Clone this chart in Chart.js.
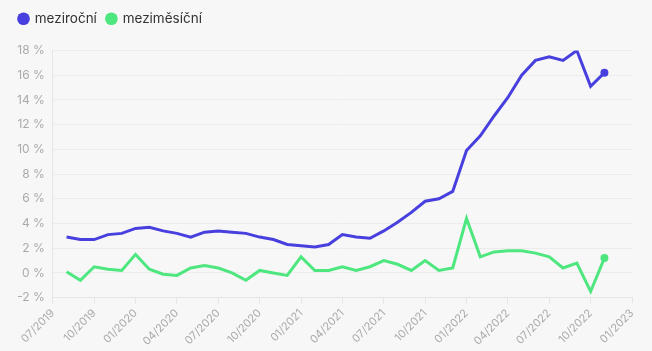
<!DOCTYPE html>
<html>
<head>
<meta charset="utf-8">
<script src="https://cdn.jsdelivr.net/npm/chart.js@4"></script>
<style>
  html, body { margin: 0; padding: 0; background: #f7f7f8; }
  #wrap { width: 652px; height: 351px; }
</style>
</head>
<body>
<div id="wrap"><canvas id="myChart"></canvas></div>
<script>
// months counted from 07/2019 (index 0)
var tickLabels = ['07/2019', '10/2019', '01/2020', '04/2020', '07/2020', '10/2020', '01/2021',
  '04/2021', '07/2021', '10/2021', '01/2022', '04/2022', '07/2022', '10/2022', '01/2023'];
var firstMonth = 1; // 08/2019
var yoy = [2.9, 2.7, 2.7, 3.1, 3.2,
  3.6, 3.7, 3.4, 3.2, 2.9, 3.3, 3.4, 3.3, 3.2, 2.9, 2.7, 2.3,
  2.2, 2.1, 2.3, 3.1, 2.9, 2.8, 3.4, 4.1, 4.9, 5.8, 6.0, 6.6,
  9.9, 11.1, 12.7, 14.2, 16.0, 17.2, 17.5, 17.2, 18.0, 15.1, 16.2];
var mom = [0.1, -0.6, 0.5, 0.3, 0.2,
  1.5, 0.3, -0.1, -0.2, 0.4, 0.6, 0.4, 0.0, -0.6, 0.2, 0.0, -0.2,
  1.3, 0.2, 0.2, 0.5, 0.2, 0.5, 1.0, 0.7, 0.2, 1.0, 0.2, 0.4,
  4.4, 1.3, 1.7, 1.8, 1.8, 1.6, 1.3, 0.4, 0.8, -1.5, 1.2];

function toPoints(arr) {
  return arr.map(function (v, i) { return { x: firstMonth + i, y: v }; });
}
function lastOnly(ctx) {
  return ctx.dataIndex === ctx.dataset.data.length - 1 ? 4 : 0;
}

// a bit of space under the legend
var legendMargin = {
  id: 'legendMargin',
  beforeInit: function (chart) {
    var fit = chart.legend.fit;
    chart.legend.fit = function () {
      fit.bind(chart.legend)();
      this.height += 15;
    };
  }
};

var ctx = document.getElementById('myChart').getContext('2d');
var chart = new Chart(ctx, {
  type: 'line',
  data: {
    datasets: [{
      label: 'meziroční',
      data: toPoints(yoy),
      borderColor: 'rgb(72, 64, 222)',
      backgroundColor: 'rgb(72, 64, 222)',
      borderWidth: 3,
      pointRadius: lastOnly,
      pointBorderWidth: 0,
      pointHoverRadius: 5,
      tension: 0
    }, {
      label: 'meziměsíční',
      data: toPoints(mom),
      borderColor: 'rgb(78, 230, 126)',
      backgroundColor: 'rgb(78, 230, 126)',
      borderWidth: 3,
      pointRadius: lastOnly,
      pointBorderWidth: 0,
      pointHoverRadius: 5,
      tension: 0
    }]
  },
  plugins: [legendMargin],
  options: {
    responsive: true,
    maintainAspectRatio: false,
    animation: false,
    layout: { padding: { left: 9, right: 20, top: 2, bottom: 0 } },
    plugins: {
      legend: {
        position: 'top',
        align: 'start',
        labels: {
          usePointStyle: true,
          pointStyle: 'circle',
          boxWidth: 9,
          boxHeight: 9,
          padding: 10,
          color: '#333',
          font: { family: 'Inter', size: 13.5 },
          generateLabels: function (chart) {
            var items = Chart.defaults.plugins.legend.labels.generateLabels(chart);
            items.forEach(function (it) { it.lineWidth = 0; });
            return items;
          }
        }
      },
      tooltip: { enabled: true }
    },
    scales: {
      x: {
        type: 'linear',
        min: 0,
        max: 42,
        ticks: {
          stepSize: 3,
          autoSkip: false,
          maxRotation: 45,
          minRotation: 45,
          color: '#aaa',
          font: { family: 'Inter', size: 11 },
          callback: function (v) { return tickLabels[v / 3]; }
        },
        grid: { color: '#e6e6e6', drawOnChartArea: false, tickLength: 6 },
        border: { color: '#e6e6e6' }
      },
      y: {
        min: -2,
        max: 18,
        ticks: {
          stepSize: 2,
          color: '#aaa',
          padding: 8,
          font: { family: 'Inter', size: 12 },
          callback: function (v) { return v + ' %'; }
        },
        grid: { color: '#ececec', drawTicks: false },
        border: { color: '#e6e6e6' }
      }
    }
  }
});
</script>
</body>
</html>
